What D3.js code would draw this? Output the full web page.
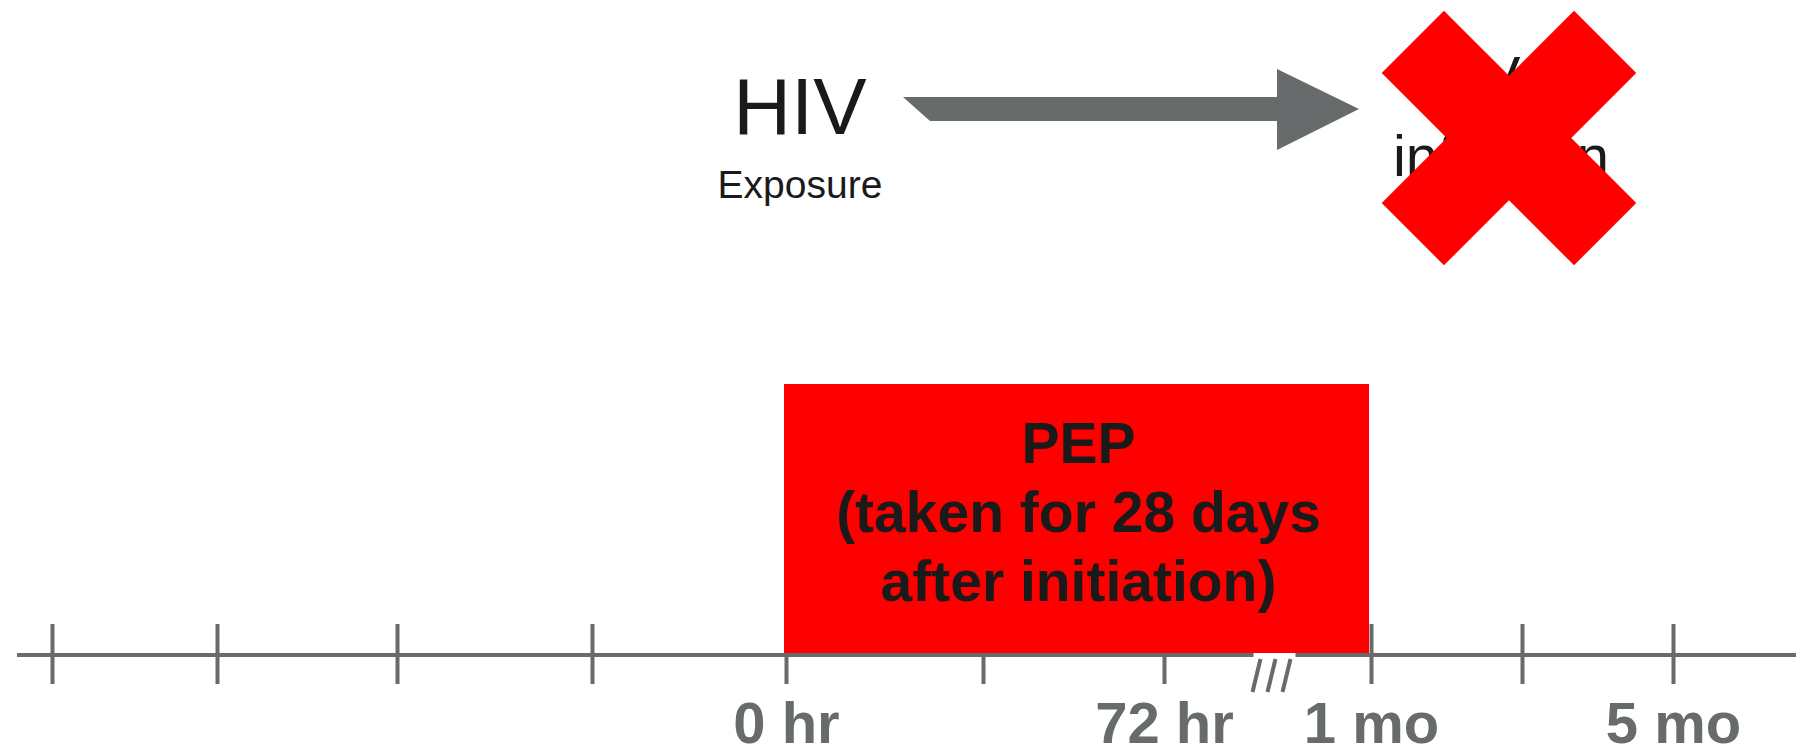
<!DOCTYPE html>
<html>
<head>
<meta charset="utf-8">
<script src="https://cdn.jsdelivr.net/npm/d3@7"></script>
<style>
  html, body { margin: 0; padding: 0; background: #fff; }
  svg { display: block; font-family: "Liberation Sans", Arial, sans-serif; }
</style>
</head>
<body>
<div id="chart"></div>
<script>
// timeline ticks (index along the time axis) and their labels
var tickIndex = [0, 1, 2, 3, 4, 5, 6, 7, 8, 9];
var tickLabels = ["", "", "", "", "0 hr", "", "72 hr", "1 mo", "", "5 mo"];

// PEP window: from "0 hr" to "1 mo"
var pepSpan = [4, 7];
var pepLines = ["PEP", "(taken for 28 days", "after initiation)"];

// axis break sits between "72 hr" and "1 mo"
var breakAt = 6.5;

var exposureLines = ["HIV", "Exposure"];
var infectionLines = ["HIV", "infection"];

var width = 1796, height = 749;
var gray = "#676b6b", red = "#ff0000", ink = "#1a1a1a";
var axisY = 655;

var svg = d3.select("#chart").append("svg")
  .attr("width", width)
  .attr("height", height);

// irregular tick spacing of the original drawing
var x = d3.scaleLinear()
  .domain(tickIndex)
  .range([52, 217, 397, 592, 786, 983, 1164, 1371, 1522, 1673]);

// axis ticks + labels
var xAxis = d3.axisBottom(x)
  .tickValues(tickIndex)
  .tickFormat(function(d) { return tickLabels[d]; })
  .tickSizeOuter(0);

var axisG = svg.append("g")
  .attr("transform", "translate(0," + axisY + ")")
  .call(xAxis);

axisG.select(".domain").remove();
axisG.selectAll(".tick line")
  .attr("y1", -31)
  .attr("y2", 29)
  .attr("stroke", gray)
  .attr("stroke-width", 4);
axisG.selectAll(".tick text")
  .attr("y", 88)
  .attr("dy", 0)
  .attr("fill", gray)
  .style("font-family", "'Liberation Sans', Arial, sans-serif")
  .style("font-size", "58px")
  .style("font-weight", "bold");

// PEP box (covers the upper half of the ticks inside it)
svg.append("rect")
  .attr("x", x(pepSpan[0]) - 2)
  .attr("y", 384)
  .attr("width", x(pepSpan[1]) - x(pepSpan[0]))
  .attr("height", axisY - 2 - 384)
  .attr("fill", red);

svg.append("text")
  .attr("x", (x(pepSpan[0]) + x(pepSpan[1])) / 2)
  .attr("text-anchor", "middle")
  .attr("fill", ink)
  .style("font-size", "57px")
  .style("font-weight", "bold")
  .selectAll("tspan")
  .data(pepLines)
  .enter().append("tspan")
  .attr("x", (x(pepSpan[0]) + x(pepSpan[1])) / 2)
  .attr("y", function(d, i) { return 463 + i * 69; })
  .text(function(d) { return d; });

// axis line with a gap at the break
var bx = x(breakAt);
svg.append("line")
  .attr("x1", 17).attr("x2", bx - 14)
  .attr("y1", axisY).attr("y2", axisY)
  .attr("stroke", gray).attr("stroke-width", 4);
svg.append("line")
  .attr("x1", bx + 28).attr("x2", width)
  .attr("y1", axisY).attr("y2", axisY)
  .attr("stroke", gray).attr("stroke-width", 4);

// break marks "///"
svg.selectAll(".slash")
  .data([-1, 0, 1])
  .enter().append("line")
  .attr("class", "slash")
  .attr("x1", function(d) { return bx + 8 + d * 15; })
  .attr("x2", function(d) { return bx + d * 15; })
  .attr("y1", 659)
  .attr("y2", 692)
  .attr("stroke", gray)
  .attr("stroke-width", 4);

// "HIV / Exposure" label
svg.append("text")
  .attr("x", 800).attr("y", 134)
  .attr("text-anchor", "middle")
  .attr("fill", ink)
  .style("font-size", "80px")
  .text(exposureLines[0]);
svg.append("text")
  .attr("x", 800).attr("y", 198)
  .attr("text-anchor", "middle")
  .attr("fill", ink)
  .style("font-size", "39px")
  .text(exposureLines[1]);

// arrow
var arrow = [[903, 97], [1277, 97], [1277, 69], [1359, 109], [1277, 150], [1277, 121], [930, 121]];
svg.append("path")
  .attr("d", d3.line()(arrow) + "Z")
  .attr("fill", gray);

// "HIV infection" (crossed out)
svg.append("text")
  .attr("x", 1472).attr("y", 97)
  .attr("text-anchor", "middle")
  .attr("fill", ink)
  .style("font-size", "58px")
  .text(infectionLines[0]);
svg.append("text")
  .attr("x", 1501).attr("y", 176)
  .attr("text-anchor", "middle")
  .attr("fill", ink)
  .style("font-size", "58px")
  .text(infectionLines[1]);

// red X
var cx = 1509, cy = 138, armLen = 272, armW = 88;
svg.selectAll(".cross")
  .data([45, -45])
  .enter().append("rect")
  .attr("class", "cross")
  .attr("x", -armLen / 2)
  .attr("y", -armW / 2)
  .attr("width", armLen)
  .attr("height", armW)
  .attr("fill", red)
  .attr("transform", function(d) { return "translate(" + cx + "," + cy + ") rotate(" + d + ")"; });
</script>
</body>
</html>
